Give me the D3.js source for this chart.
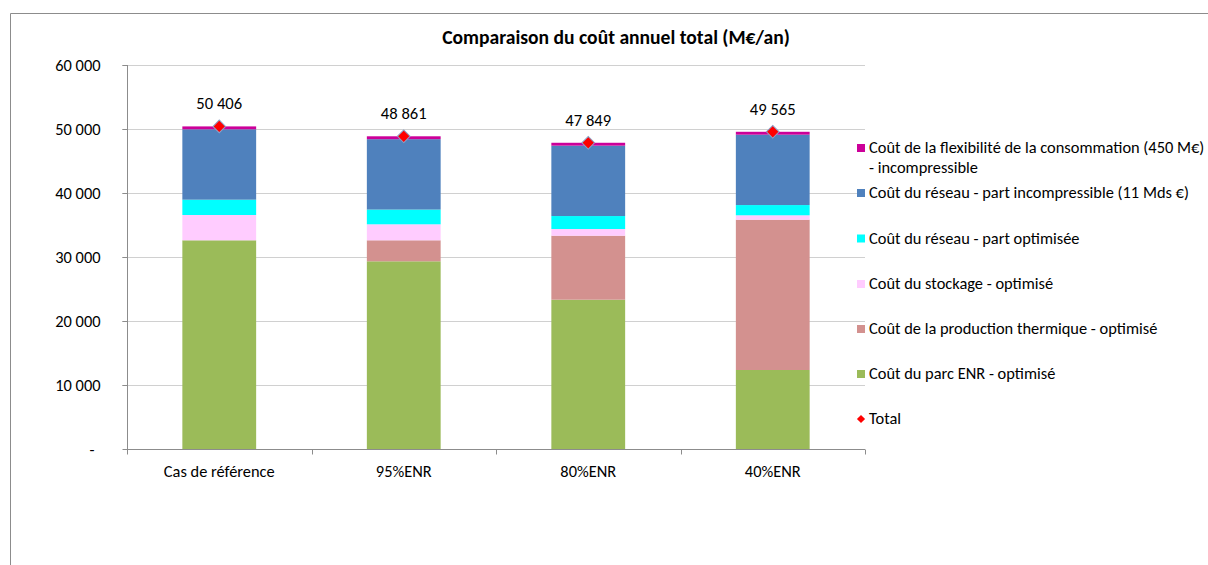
<!DOCTYPE html>
<html><head><meta charset="utf-8">
<script src="https://cdn.jsdelivr.net/npm/d3@7"></script>
<style>
html,body{margin:0;padding:0;background:#fff;}
svg{display:block;font-family:Carlito, Calibri, Lato, "Open Sans", sans-serif;}
</style></head>
<body>
<svg id="chart" width="1208" height="565"></svg>
<script>
const categories = ["Cas de référence", "95%ENR", "80%ENR", "40%ENR"];
const seriesNames = [
  "Coût du parc ENR - optimisé",
  "Coût de la production thermique - optimisé",
  "Coût du stockage - optimisé",
  "Coût du réseau - part optimisée",
  "Coût du réseau - part incompressible (11 Mds €)",
  "Coût de la flexibilité de la consommation (450 M€) - incompressible"
];
const enr        = [32609, 29328, 23328, 12344];
const thermique  = [0, 3281, 10000, 23484];
const stockage   = [3954, 2500, 1047, 688];
const reseauOpt  = [2393, 2302, 2024, 1599];
const reseauInc  = [11000, 11000, 11000, 11000];
const flexibilite= [450, 450, 450, 450];
const totals     = [50406, 48861, 47849, 49565];
const yTicks     = [0, 10000, 20000, 30000, 40000, 50000, 60000];
const colors     = ["#9BBB59", "#D3918F", "#FFCCFF", "#00FFFF", "#4F81BD", "#CC0099"];

(function(){
const seriesValues = [enr, thermique, stockage, reseauOpt, reseauInc, flexibilite];
const table = categories.map((c, i) => {
  const o = {cat: c};
  seriesNames.forEach((s, j) => o[s] = seriesValues[j][i]);
  return o;
});

const svg = d3.select("#chart");
const pL = 127, pR = 865, pT = 65, pB = 449;
const FS = 16.4;

// frame
svg.append("path").attr("d", `M10.5,600 V13.5 H1300`).attr("fill","none").attr("stroke","#8c8c8c").attr("stroke-width",1);

const x = d3.scaleBand().domain(categories).range([pL, pR]).paddingInner(0.6).paddingOuter(0.3);
const y = d3.scaleLinear().domain([0, 60000]).range([pB, pT]);

const fmt = v => v === 0 ? "-" : d3.format(",")(v).replace(/,/g, " ");

// gridlines
svg.append("g").selectAll("line").data(yTicks.filter(t => t > 0)).join("line")
  .attr("x1", pL - 5).attr("x2", pR)
  .attr("y1", d => Math.round(y(d)) + 0.5).attr("y2", d => Math.round(y(d)) + 0.5)
  .attr("stroke", "#d0d0d0");

// y axis
const yAxis = d3.axisLeft(y).tickValues(yTicks).tickSize(5).tickFormat(fmt);
const gy = svg.append("g").attr("transform", `translate(${pL + 0.5},0)`).call(yAxis);
gy.select(".domain").attr("stroke", "#8c8c8c").attr("d", `M0,${pT}V${pB + 5}`);
gy.selectAll(".tick line").attr("stroke", "#8c8c8c");
gy.selectAll(".tick text").attr("x", -27).attr("font-size", FS).attr("fill", "#000")
  .attr("font-family", "Carlito, Calibri, Lato, sans-serif");
gy.selectAll(".tick").filter(d => d === 0).select("text").attr("x", -33);

// stacked bars
const stack = d3.stack().keys(seriesNames);
const stacked = stack(table);
svg.append("g").selectAll("g").data(stacked).join("g")
  .attr("fill", (d, i) => colors[i])
  .selectAll("rect").data(d => d).join("rect")
  .attr("x", d => x(d.data.cat))
  .attr("width", x.bandwidth())
  .attr("y", d => y(d[1]))
  .attr("height", d => Math.max(0, y(d[0]) - y(d[1])));

// x axis
const gx = svg.append("g").attr("transform", `translate(0,${pB + 0.5})`);
gx.append("line").attr("x1", pL).attr("x2", pR).attr("stroke", "#8c8c8c");
const bounds = d3.range(categories.length + 1).map(i => pL + i * x.step());
gx.selectAll(".tk").data(bounds).join("line").attr("class","tk")
  .attr("x1", d => Math.round(d) + 0.5).attr("x2", d => Math.round(d) + 0.5)
  .attr("y1", 0).attr("y2", 5).attr("stroke", "#8c8c8c");
gx.selectAll("text").data(categories).join("text")
  .attr("x", d => x(d) + x.bandwidth() / 2).attr("y", 27)
  .attr("text-anchor", "middle").attr("font-size", FS).text(d => d);

// totals markers
const diamond = d3.symbol(d3.symbolSquare).size(80);
svg.append("g").selectAll("path").data(totals).join("path")
  .attr("d", diamond)
  .attr("transform", (d, i) => `translate(${x(categories[i]) + x.bandwidth() / 2},${y(d)}) rotate(45)`)
  .attr("fill", "#FF0000").attr("stroke", "#8EA3C8").attr("stroke-width", 1);
svg.append("g").selectAll("text").data(totals).join("text")
  .attr("x", (d, i) => x(categories[i]) + x.bandwidth() / 2)
  .attr("y", d => y(d) - 17)
  .attr("text-anchor", "middle").attr("font-size", 16.6).text(d => fmt(d));

// title
svg.append("text").attr("x", 616).attr("y", 44).attr("text-anchor", "middle")
  .attr("font-size", 19.6).attr("font-weight", "bold").text("Comparaison du coût annuel total (M€/an)");

// legend
const legendItems = [
  {lines: ["Coût de la flexibilité de la consommation (450 M€)", "- incompressible"], color: colors[5], y: 148},
  {lines: [seriesNames[4]], color: colors[4], y: 193},
  {lines: [seriesNames[3]], color: colors[3], y: 238.5},
  {lines: [seriesNames[2]], color: colors[2], y: 284},
  {lines: [seriesNames[1]], color: colors[1], y: 329},
  {lines: [seriesNames[0]], color: colors[0], y: 374},
];
const lg = svg.append("g");
legendItems.forEach(it => {
  lg.append("rect").attr("x", 857).attr("y", it.y - 4).attr("width", 8).attr("height", 8).attr("fill", it.color);
  it.lines.forEach((l, k) => {
    lg.append("text").attr("x", 869).attr("y", it.y + 5 + k * 19.5).attr("font-size", FS).text(l);
  });
});
lg.append("path").attr("d", d3.symbol(d3.symbolSquare).size(34))
  .attr("transform", "translate(861,419) rotate(45)").attr("fill", "#FF0000");
lg.append("text").attr("x", 869).attr("y", 424).attr("font-size", FS).text("Total");
})();
</script>
</body></html>
